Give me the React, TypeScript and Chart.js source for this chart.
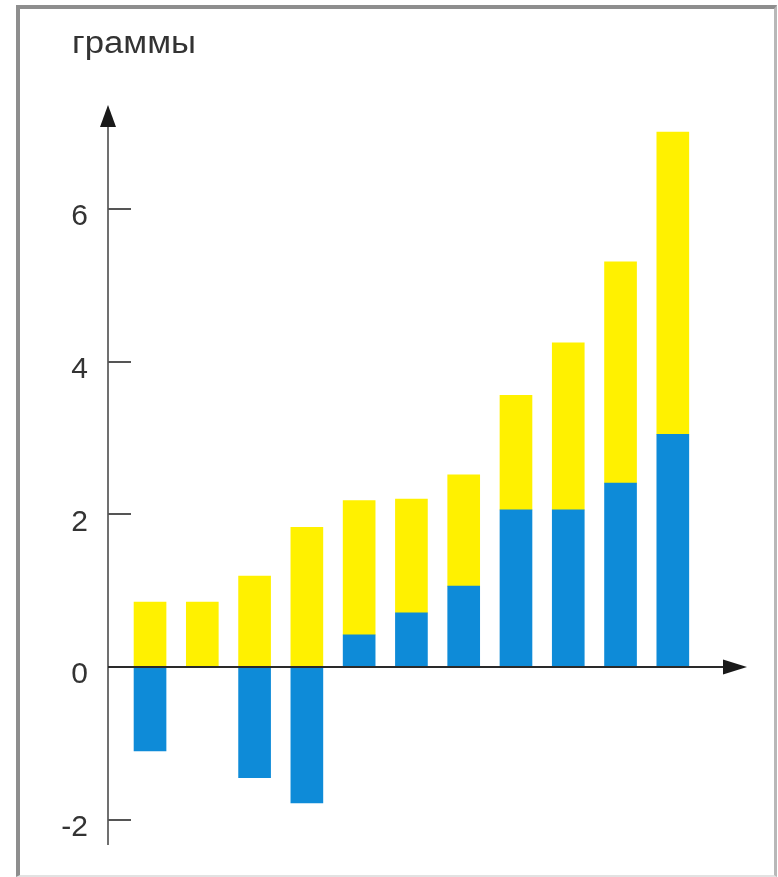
import React, { useEffect, useRef } from "react";
import { Chart, registerables } from "chart.js";

Chart.register(...registerables);

// ---- data ----
const categories = [1, 2, 3, 4, 5, 6, 7, 8, 9, 10, 11];
const blueValues = [-1.1, 0, -1.45, -1.78, 0.42, 0.71, 1.06, 2.06, 2.06, 2.41, 3.05];
const yellowValues = [0.85, 0.85, 1.19, 1.83, 1.76, 1.49, 1.46, 1.5, 2.19, 2.9, 3.96];
const yTickValues = [-2, 0, 2, 4, 6];
const yAxisTitle = "граммы";

const FONT = '"Liberation Sans", Arial, sans-serif';

const axesPlugin = {
  id: "axesArrows",
  afterDatasetsDraw(chart: any) {
    const { ctx, chartArea, scales } = chart;
    const y = scales.y;
    const x0 = chartArea.left;
    const yZero = y.getPixelForValue(0);
    ctx.save();
    // y axis line
    ctx.strokeStyle = "#707070";
    ctx.lineWidth = 2;
    ctx.beginPath();
    ctx.moveTo(x0, chartArea.bottom);
    ctx.lineTo(x0, chartArea.top);
    ctx.stroke();
    // y arrow head
    ctx.fillStyle = "#1a1a1a";
    ctx.beginPath();
    ctx.moveTo(x0, chartArea.top - 22);
    ctx.lineTo(x0 - 8, chartArea.top);
    ctx.lineTo(x0 + 8, chartArea.top);
    ctx.closePath();
    ctx.fill();
    // tick marks (inside)
    ctx.strokeStyle = "#555555";
    y.ticks.forEach((t: any) => {
      if (t.value === 0) return;
      const py = Math.round(y.getPixelForValue(t.value));
      ctx.beginPath();
      ctx.moveTo(x0, py);
      ctx.lineTo(x0 + 23, py);
      ctx.stroke();
    });
    // x axis line
    ctx.strokeStyle = "#2a2a2a";
    ctx.beginPath();
    ctx.moveTo(x0, yZero);
    ctx.lineTo(chartArea.right - 20, yZero);
    ctx.stroke();
    // x arrow head
    ctx.beginPath();
    ctx.moveTo(chartArea.right, yZero);
    ctx.lineTo(chartArea.right - 24, yZero - 7.5);
    ctx.lineTo(chartArea.right - 24, yZero + 7.5);
    ctx.closePath();
    ctx.fill();
    // axis title
    ctx.fillStyle = "#333333";
    ctx.font = `31px ${FONT}`;
    ctx.textBaseline = "alphabetic";
    ctx.textAlign = "left";
    ctx.translate(x0 - 36, 53);
    ctx.scale(1.12, 1);
    ctx.fillText(yAxisTitle, 0, 0);
    ctx.restore();
  },
};

export default function App() {
  const ref = useRef<HTMLCanvasElement | null>(null);

  useEffect(() => {
    if (!ref.current) return;
    const chart = new Chart(ref.current, {
      type: "bar",
      data: {
        datasets: [
          {
            label: "blue",
            data: categories.map((c, i) => ({ x: c, y: blueValues[i] })),
            backgroundColor: "#0e8bd8",
            borderWidth: 0,
            barThickness: 32,
          },
          {
            label: "yellow",
            data: categories.map((c, i) => ({ x: c, y: yellowValues[i] })),
            backgroundColor: "#fff100",
            borderWidth: 0,
            barThickness: 32,
          },
        ],
      },
      options: {
        responsive: false,
        animation: false,
        devicePixelRatio: 1,
        layout: { padding: { top: 127, bottom: 32, right: 31, left: 0 } },
        plugins: {
          legend: { display: false },
          tooltip: { enabled: false },
          title: { display: false },
        },
        scales: {
          x: {
            type: "linear",
            stacked: true,
            display: false,
            offset: false,
            grid: { offset: false },
            min: 0.196,
            max: 12.419,
          },
          y: {
            type: "linear",
            stacked: true,
            min: -2.333,
            max: 7.077,
            afterFit: (s: any) => {
              s.width = 108;
              s.paddingTop = 0;
              s.paddingBottom = 0;
            },
            afterBuildTicks: (s: any) => {
              s.ticks = yTickValues.map((v) => ({ value: v }));
            },
            grid: { display: false, drawTicks: false },
            border: { display: false },
            ticks: {
              padding: 20,
              labelOffset: 8,
              color: "#333333",
              font: { family: FONT, size: 30 },
              callback: (v: any) => String(v),
            },
          },
        },
      },
      plugins: [axesPlugin],
    } as any);
    return () => chart.destroy();
  }, []);

  return (
    <div style={{ position: "absolute", left: 0, top: 0, width: 778, height: 877, background: "#ffffff" }}>
      <div
        style={{
          position: "absolute",
          left: 16,
          top: 5,
          width: 761,
          height: 872,
          boxSizing: "border-box",
          borderLeft: "4px solid #8e8e8e",
          borderTop: "4px solid #8e8e8e",
          borderRight: "3px solid #b8b8b8",
          borderBottom: "2px solid #e2e2e2",
        }}
      />
      <canvas
        ref={ref}
        width={778}
        height={877}
        style={{ position: "absolute", left: 0, top: 0, width: 778, height: 877 }}
      />
    </div>
  );
}
